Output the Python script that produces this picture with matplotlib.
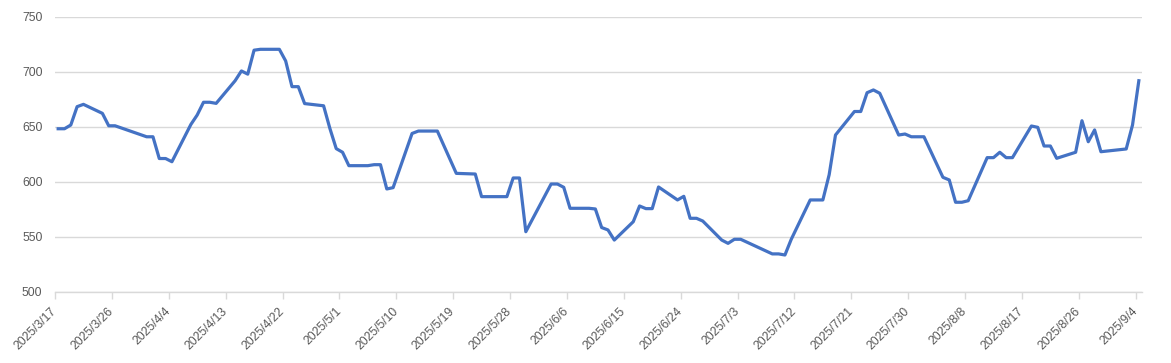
import matplotlib
matplotlib.use("Agg")
import matplotlib.pyplot as plt
import matplotlib.dates as mdates
import pandas as pd
import numpy as np

dates = ["2025-03-17", "2025-03-18", "2025-03-19", "2025-03-20", "2025-03-21",
         "2025-03-24", "2025-03-25", "2025-03-26", "2025-03-31", "2025-04-01",
         "2025-04-02", "2025-04-03", "2025-04-04", "2025-04-07", "2025-04-08",
         "2025-04-09", "2025-04-10", "2025-04-11", "2025-04-14", "2025-04-15",
         "2025-04-16", "2025-04-17", "2025-04-18", "2025-04-21", "2025-04-22",
         "2025-04-23", "2025-04-24", "2025-04-25", "2025-04-28", "2025-04-29",
         "2025-04-30", "2025-05-01", "2025-05-02", "2025-05-05", "2025-05-06",
         "2025-05-07", "2025-05-08", "2025-05-09", "2025-05-12", "2025-05-13",
         "2025-05-16", "2025-05-19", "2025-05-22", "2025-05-23", "2025-05-27",
         "2025-05-28", "2025-05-29", "2025-05-30", "2025-06-03", "2025-06-04",
         "2025-06-05", "2025-06-06", "2025-06-09", "2025-06-10", "2025-06-11",
         "2025-06-12", "2025-06-13", "2025-06-16", "2025-06-17", "2025-06-18",
         "2025-06-19", "2025-06-20", "2025-06-23", "2025-06-24", "2025-06-25",
         "2025-06-26", "2025-06-27", "2025-06-30", "2025-07-01", "2025-07-02",
         "2025-07-03", "2025-07-08", "2025-07-09", "2025-07-10", "2025-07-11",
         "2025-07-14", "2025-07-15", "2025-07-16", "2025-07-17", "2025-07-18",
         "2025-07-21", "2025-07-22", "2025-07-23", "2025-07-24", "2025-07-25",
         "2025-07-28", "2025-07-29", "2025-07-30", "2025-07-31", "2025-08-01",
         "2025-08-04", "2025-08-05", "2025-08-06", "2025-08-07", "2025-08-08",
         "2025-08-11", "2025-08-12", "2025-08-13", "2025-08-14", "2025-08-15",
         "2025-08-18", "2025-08-19", "2025-08-20", "2025-08-21", "2025-08-22",
         "2025-08-25", "2025-08-26", "2025-08-27", "2025-08-28", "2025-08-29",
         "2025-09-02", "2025-09-03", "2025-09-04"]

values = [648.3, 648.3, 651.7, 668.4, 670.5,
          662.3, 651.0, 651.0, 641.0, 641.0,
          621.2, 621.2, 618.3, 652.2, 660.8,
          672.4, 672.4, 671.4, 692.0, 700.9,
          698.0, 719.8, 720.6, 720.6, 710.0,
          686.6, 686.6, 671.2, 669.2, 648.5,
          630.2, 626.9, 614.7, 614.7, 615.6,
          615.6, 593.5, 594.7, 644.0, 646.2,
          646.2, 607.7, 607.1, 586.5, 586.5,
          603.5, 603.5, 554.6, 598.0, 598.0,
          595.0, 575.9, 575.9, 575.3, 558.4,
          556.2, 547.0, 563.7, 578.0, 575.6,
          575.6, 595.3, 583.5, 586.8, 566.8,
          566.8, 564.3, 547.0, 544.0, 547.7,
          547.7, 534.4, 534.4, 533.4, 547.7,
          583.5, 583.5, 583.5, 606.5, 642.6,
          664.0, 664.0, 681.1, 683.6, 680.6,
          642.6, 643.5, 641.0, 641.0, 641.0,
          604.1, 601.7, 581.4, 581.4, 582.8,
          622.0, 622.0, 626.9, 622.0, 622.0,
          650.8, 649.6, 632.6, 632.6, 621.4,
          626.9, 655.6, 636.5, 647.2, 627.4,
          629.9, 651.7, 692.0]

y_ticks = [500, 550, 600, 650, 700, 750]
x_tick_start = "2025-03-17"
x_tick_step_days = 9
x_tick_count = 20

W, H = 1171, 363
fig = plt.figure(figsize=(W / 100, H / 100), dpi=100)
left, right, top, bottom = 55, 1142, 17, 291.7
ax = fig.add_axes([left / W, (H - bottom) / H, (right - left) / W, (bottom - top) / H])

fam = ['Liberation Sans', 'DejaVu Sans']

d = pd.to_datetime(dates)
xnum = mdates.date2num(d) + 0.5
ax.plot(xnum, values, color="#4472C4", lw=2.3, solid_joinstyle="round", zorder=3)

start = mdates.date2num(pd.Timestamp(x_tick_start))
ax.set_xlim(start, start + 172)
ax.set_ylim(500, 750)

tick_dates = pd.date_range(x_tick_start, periods=x_tick_count, freq=f"{x_tick_step_days}D")
ax.set_xticks(mdates.date2num(tick_dates))
ax.set_xticklabels([f"{t.year}/{t.month}/{t.day}" for t in tick_dates],
                   rotation=45, ha="right", va="center", rotation_mode="anchor",
                   fontsize=8.7, color="#595959", family=fam)
ax.set_yticks(y_ticks)
ax.set_yticklabels([str(v) for v in y_ticks], fontsize=8.7, color="#595959", family=fam)

ax.grid(axis="y", color="#D9D9D9", lw=1.0)
ax.set_axisbelow(True)
for s in ["left", "right", "top"]:
    ax.spines[s].set_visible(False)
ax.spines["bottom"].set_color("#D9D9D9")
ax.spines["bottom"].set_linewidth(1.0)
ax.tick_params(axis="y", length=0, pad=9)
ax.tick_params(axis="x", length=5, color="#D9D9D9", width=1.0, pad=8)

fig.savefig("out.png", dpi=100, facecolor="white")
